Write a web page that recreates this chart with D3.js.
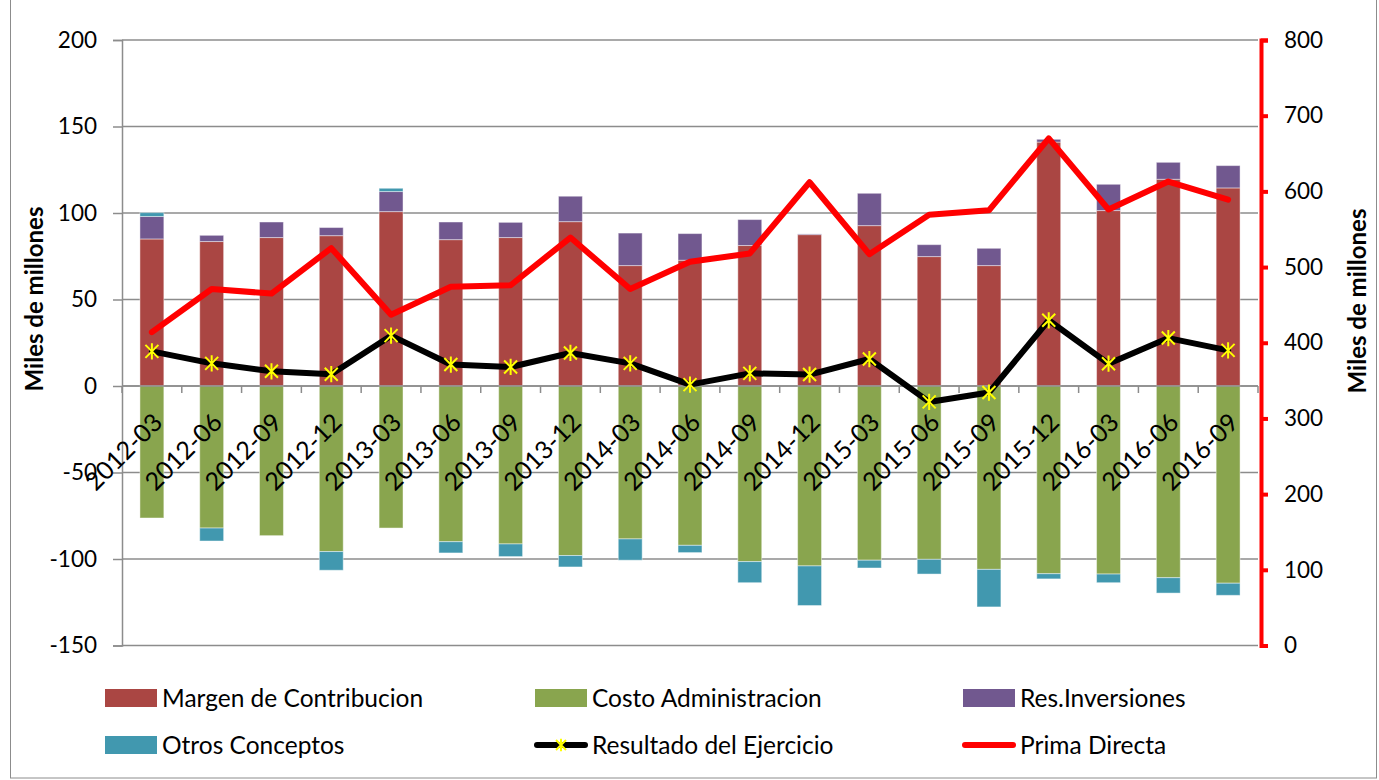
<!DOCTYPE html>
<html>
<head>
<meta charset="utf-8">
<script src="https://cdn.jsdelivr.net/npm/d3@7"></script>
<style>
  html, body { margin: 0; padding: 0; background: #ffffff; }
  svg { display: block; }
  text { font-family: Lato, "Open Sans", sans-serif; }
</style>
</head>
<body>
<svg id="chart" width="1379" height="780"></svg>
<script>
// ---------------- data ----------------
const categories = ["2012-03","2012-06","2012-09","2012-12","2013-03","2013-06","2013-09","2013-12",
  "2014-03","2014-06","2014-09","2014-12","2015-03","2015-06","2015-09","2015-12","2016-03","2016-06","2016-09"];
const margenContribucion = [85, 83.5, 85.8, 86.9, 100.8, 84.6, 85.8, 95, 69.6, 72.7, 81.2, 87.5, 92.7, 74.8, 69.6, 141, 101.4, 119.5, 114.5];
const costoAdministracion = [-76.3, -82.1, -86.5, -95.7, -82.1, -90, -91.3, -98, -88.4, -92.1, -101.5, -104, -100.7, -100.2, -106, -108.5, -108.7, -110.8, -114];
const resInversiones = [13, 3.6, 9, 4.7, 11.6, 10.2, 8.8, 14.7, 18.8, 15.4, 15, 0.4, 18.7, 6.9, 10, 1.6, 15.2, 9.8, 12.9];
const otrosConceptos = [2.2, -7.5, 0, -10.8, 1.9, -6.5, -7.3, -6.6, -12.3, -4.2, -12.2, -22.9, -4.5, -8.5, -21.7, -3, -5, -8.9, -7];
const resultadoEjercicio = [20.0, 13.1, 8.5, 6.8, 29.1, 12.4, 11.0, 19.1, 13.1, 0.8, 7.3, 6.6, 15.6, -9.2, -3.8, 38.0, 12.9, 27.7, 20.6];
const primaDirecta = [414, 471, 465, 525, 437, 474, 476, 539, 471, 507, 518, 612, 517, 569, 575, 670, 576, 613, 589];
const leftTicks = [-150, -100, -50, 0, 50, 100, 150, 200];
const rightTicks = [0, 100, 200, 300, 400, 500, 600, 700, 800];
const seriesNames = ["Margen de Contribucion", "Costo Administracion", "Res.Inversiones", "Otros Conceptos", "Resultado del Ejercicio", "Prima Directa"];
const axisTitle = "Miles de millones";

// ---------------- layout ----------------
const colors = { margen: "#AA4643", costo: "#89A54E", res: "#71588F", otros: "#4198AF" };
const svg = d3.select("#chart");
const plot = { left: 122, right: 1258, top: 40, bottom: 645.5 };
const fmt = d => String(d);

svg.append("rect").attr("x", 10.5).attr("y", -2).attr("width", 1366).attr("height", 780)
  .attr("fill", "#fff").attr("stroke", "#8c8c8c").attr("stroke-width", 1);

const x = d3.scaleBand().domain(categories).range([plot.left, plot.right]).paddingInner(0.6).paddingOuter(0.3);
const yL = d3.scaleLinear().domain([-150, 200]).range([plot.bottom, plot.top]);
const yR = d3.scaleLinear().domain([0, 800]).range([plot.bottom, plot.top]);
const cx = c => x(c) + x.bandwidth() / 2;

// gridlines
svg.append("g").selectAll("line").data(leftTicks).join("line")
  .attr("x1", plot.left).attr("x2", plot.right)
  .attr("y1", d => yL(d)).attr("y2", d => yL(d))
  .attr("stroke", "#8c8c8c").attr("stroke-width", 1.5);

// left axis
const leftAxis = svg.append("g").attr("transform", `translate(${plot.left},0)`)
  .call(d3.axisLeft(yL).tickValues(leftTicks).tickSize(9).tickPadding(16).tickFormat(fmt));
leftAxis.select(".domain").attr("stroke", "#8c8c8c").attr("stroke-width", 1.5);
leftAxis.selectAll(".tick line").attr("stroke", "#8c8c8c").attr("stroke-width", 1.5);
leftAxis.selectAll(".tick text").attr("font-size", 22.5).attr("fill", "#000").attr("font-family", "Lato");

// stacked bars
const table = categories.map((c, i) => ({
  cat: c, margen: margenContribucion[i], costo: costoAdministracion[i], res: resInversiones[i], otros: otrosConceptos[i]
}));
const stack = d3.stack().keys(["margen", "costo", "res", "otros"]).offset(d3.stackOffsetDiverging);
const layers = stack(table);
svg.append("g").selectAll("g").data(layers).join("g")
  .attr("fill", d => colors[d.key])
  .selectAll("rect").data(d => d).join("rect")
  .attr("x", d => x(d.data.cat))
  .attr("width", x.bandwidth())
  .attr("y", d => yL(Math.max(d[0], d[1])))
  .attr("height", d => Math.abs(yL(d[0]) - yL(d[1])))
  .attr("stroke", "rgba(255,255,255,0.45)").attr("stroke-width", 1);

// category axis at zero
const zeroY = yL(0);
svg.append("line").attr("x1", plot.left).attr("x2", plot.right).attr("y1", zeroY).attr("y2", zeroY)
  .attr("stroke", "#8c8c8c").attr("stroke-width", 1.5);
svg.append("g").selectAll("line").data(d3.range(categories.length + 1)).join("line")
  .attr("x1", i => plot.left + i * x.step()).attr("x2", i => plot.left + i * x.step())
  .attr("y1", zeroY).attr("y2", zeroY + 7)
  .attr("stroke", "#8c8c8c").attr("stroke-width", 1.5);

// category labels
svg.append("g").selectAll("text").data(categories).join("text")
  .attr("transform", c => `translate(${cx(c) + 12},${zeroY + 38}) rotate(-45)`)
  .attr("text-anchor", "end").attr("font-size", 25).attr("fill", "#000")
  .text(c => c);

// right axis
const rightAxis = svg.append("g").attr("transform", `translate(${plot.right + 3},0)`)
  .call(d3.axisRight(yR).tickValues(rightTicks).tickSize(7).tickPadding(16).tickFormat(fmt));
rightAxis.select(".domain").attr("stroke", "#ff0000").attr("stroke-width", 4);
rightAxis.selectAll(".tick line").attr("stroke", "#ff0000").attr("stroke-width", 4);
rightAxis.selectAll(".tick text").attr("font-size", 22.5).attr("fill", "#000").attr("font-family", "Lato");

// Prima Directa line
svg.append("path").datum(categories)
  .attr("fill", "none").attr("stroke", "#ff0000").attr("stroke-width", 6)
  .attr("stroke-linejoin", "round").attr("stroke-linecap", "round")
  .attr("d", d3.line().x(c => cx(c)).y((c, i) => yR(primaDirecta[i])));

// Resultado line
svg.append("path").datum(categories)
  .attr("fill", "none").attr("stroke", "#000").attr("stroke-width", 6)
  .attr("stroke-linejoin", "round").attr("stroke-linecap", "round")
  .attr("d", d3.line().x(c => cx(c)).y((c, i) => yL(resultadoEjercicio[i])));

function starMarker(g, px, py, s) {
  g.append("path")
    .attr("d", `M${px - s},${py - s}L${px + s},${py + s}M${px - s},${py + s}L${px + s},${py - s}M${px},${py - s * 1.25}L${px},${py + s * 1.25}`)
    .attr("stroke", "#ffff00").attr("stroke-width", 2).attr("fill", "none");
}
const mk = svg.append("g");
categories.forEach((c, i) => starMarker(mk, cx(c), yL(resultadoEjercicio[i]), 6.5));

// axis titles
svg.append("text").attr("transform", `translate(43,299) rotate(-90)`)
  .attr("text-anchor", "middle").attr("font-size", 24).attr("font-weight", "bold").text(axisTitle);
svg.append("text").attr("transform", `translate(1366,301) rotate(-90)`)
  .attr("text-anchor", "middle").attr("font-size", 24).attr("font-weight", "bold").text(axisTitle);

// legend
const legendItems = [
  { name: seriesNames[0], type: "rect", color: colors.margen, x: 105, y: 698 },
  { name: seriesNames[1], type: "rect", color: colors.costo, x: 535, y: 698 },
  { name: seriesNames[2], type: "rect", color: colors.res, x: 963, y: 698 },
  { name: seriesNames[3], type: "rect", color: colors.otros, x: 105, y: 745 },
  { name: seriesNames[4], type: "lineStar", color: "#000", x: 535, y: 745 },
  { name: seriesNames[5], type: "line", color: "#ff0000", x: 963, y: 745 }
];
const lg = svg.append("g");
legendItems.forEach(it => {
  if (it.type === "rect") {
    lg.append("rect").attr("x", it.x).attr("y", it.y - 9).attr("width", 52).attr("height", 18).attr("fill", it.color);
  } else {
    lg.append("line").attr("x1", it.x + 2).attr("x2", it.x + 50).attr("y1", it.y).attr("y2", it.y)
      .attr("stroke", it.color).attr("stroke-width", 6).attr("stroke-linecap", "round");
    if (it.type === "lineStar") starMarker(lg, it.x + 26, it.y, 5);
  }
  lg.append("text").attr("x", it.x + 57).attr("y", it.y).attr("dy", "0.35em")
    .attr("font-size", 24.5).attr("fill", "#000").text(it.name);
});
</script>
</body>
</html>
